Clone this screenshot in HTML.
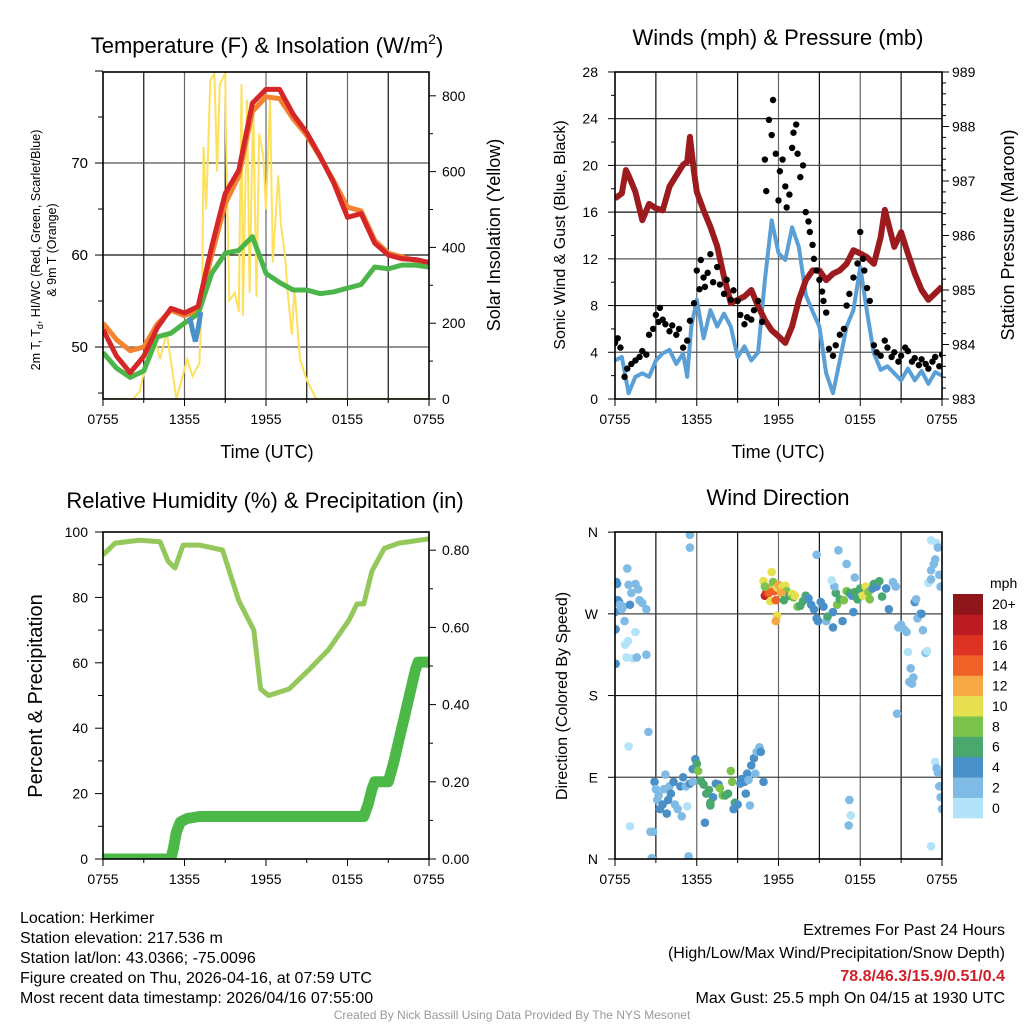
<!DOCTYPE html>
<html><head><meta charset="utf-8"><style>
html,body{margin:0;padding:0;background:#fff;}
svg{display:block;font-family:"Liberation Sans",Arial,sans-serif;}
</style></head><body>
<svg id="c" width="1024" height="1024" viewBox="0 0 1024 1024" xmlns="http://www.w3.org/2000/svg">
<defs>
<clipPath id="cp1"><rect x="103" y="72" width="326" height="327"/></clipPath>
<clipPath id="cp2"><rect x="615" y="72" width="327" height="327"/></clipPath>
<clipPath id="cp3"><rect x="103" y="532" width="326" height="327"/></clipPath>
<clipPath id="cp4"><rect x="615" y="532" width="327" height="327"/></clipPath>
</defs>
<text x="267" y="53" font-size="22" text-anchor="middle">Temperature (F) &amp; Insolation (W/m<tspan dy="-9" font-size="14">2</tspan><tspan dy="9">)</tspan></text>
<text x="778" y="45" font-size="22" text-anchor="middle">Winds (mph) &amp; Pressure (mb)</text>
<text x="265" y="508" font-size="22" text-anchor="middle">Relative Humidity (%) &amp; Precipitation (in)</text>
<text x="778" y="505" font-size="22" text-anchor="middle">Wind Direction</text>

<text x="267" y="458" font-size="18" text-anchor="middle">Time (UTC)</text>
<text x="778" y="458" font-size="18" text-anchor="middle">Time (UTC)</text>
<text transform="translate(40,250) rotate(-90)" font-size="12.5" text-anchor="middle">2m T, T<tspan dy="3" font-size="9">d</tspan><tspan dy="-3">, HI/WC (Red, Green, Scarlet/Blue)</tspan></text>
<text transform="translate(56,250) rotate(-90)" font-size="12.5" text-anchor="middle">&amp; 9m T (Orange)</text>
<text transform="translate(500,235) rotate(-90)" font-size="18" text-anchor="middle">Solar Insolation (Yellow)</text>
<text transform="translate(565,235) rotate(-90)" font-size="16" text-anchor="middle">Sonic Wind &amp; Gust (Blue, Black)</text>
<text transform="translate(1014,235) rotate(-90)" font-size="18" text-anchor="middle">Station Pressure (Maroon)</text>
<text transform="translate(42,696) rotate(-90)" font-size="20" text-anchor="middle">Percent &amp; Precipitation</text>
<text transform="translate(567,696) rotate(-90)" font-size="16" text-anchor="middle">Direction (Colored By Speed)</text>
<text x="990" y="588" font-size="14">mph</text>

<g font-size="16">
<text x="20" y="923">Location: Herkimer</text>
<text x="20" y="943">Station elevation: 217.536 m</text>
<text x="20" y="963">Station lat/lon: 43.0366; -75.0096</text>
<text x="20" y="983">Figure created on Thu, 2026-04-16, at 07:59 UTC</text>
<text x="20" y="1003">Most recent data timestamp: 2026/04/16 07:55:00</text>
</g>
<g font-size="16" text-anchor="end">
<text x="1005" y="935">Extremes For Past 24 Hours</text>
<text x="1005" y="958">(High/Low/Max Wind/Precipitation/Snow Depth)</text>
<text x="1005" y="981" fill="#d0202a" font-weight="bold">78.8/46.3/15.9/0.51/0.4</text>
<text x="1005" y="1003">Max Gust: 25.5 mph On 04/15 at 1930 UTC</text>
</g>
<text x="512" y="1019" font-size="12" fill="#999" text-anchor="middle">Created By Nick Bassill Using Data Provided By The NYS Mesonet</text>
</svg>
<script>
// ---- data ----
const hours = [0,1,2,3,4,5,6,7,8,9,10,11,12,13,14,15,16,17,18,19,20,21,22,23,24];
const xTickLabels = ["0755","1355","1955","0155","0755"];
const tempRed = [51.9,49.0,47.2,49.0,52.1,54.2,53.7,54.4,60.9,66.7,69.2,76.5,78.0,78.0,75.3,73.3,70.7,67.8,64.1,64.5,61.3,60.0,59.6,59.5,59.2];
const temp9m = [52.6,50.8,49.6,50.0,52.5,54.0,53.4,54.0,60.0,65.6,68.6,75.6,77.2,77.0,74.8,73.0,70.6,68.0,65.2,64.8,61.6,60.2,59.8,59.4,59.1];
const dewGreen = [49.4,47.7,46.7,47.4,51.1,51.5,52.6,53.6,58.0,60.2,60.5,62.0,58.0,57.0,56.2,56.2,55.8,56.0,56.4,56.8,58.7,58.5,58.9,58.9,58.7];
const wcHours = [6.4,6.6,6.8,7.0,7.2];
const wcBlue = [53.2,51.8,50.6,52.0,53.8];
const solarHours = [0,2.2,2.7,3.0,3.7,4.2,4.7,5.4,6.2,6.6,7.1,7.3,7.4,7.6,7.9,8.2,8.4,8.6,9.0,9.05,9.3,9.7,10.0,10.2,10.3,10.6,10.8,11.05,11.3,11.5,11.8,12.0,12.3,12.5,12.9,13.1,13.4,13.6,13.9,14.1,14.5,15.0,15.7,24];
const solarVals = [0,0,20,68,175,105,175,0,105,60,95,280,665,500,840,860,600,830,860,700,260,280,230,830,220,790,280,790,270,700,640,500,790,360,590,460,380,280,170,290,105,50,0,0];
const windHours = [0,0.5,1,1.5,2,2.5,3,3.5,4,4.5,5,5.3,5.6,6,6.5,7,7.5,8,8.5,9,9.5,10,10.5,11,11.5,12,12.5,13,13.5,14,14.5,15,15.5,16,16.5,17,17.5,18,18.5,19,19.5,20,20.5,21,21.5,22,22.5,23,23.5,24];
const windVals = [3.3,3.6,0.5,1.9,2.2,1.9,3.3,3.9,4.2,3.0,3.9,1.9,6.2,8.5,5.2,7.6,6.2,7.3,6.2,3.6,4.5,3.3,4.0,10.2,15.3,12.5,11.9,14.7,13.0,8.9,7.5,6.2,2.2,0.5,3.3,6.2,7.6,11.3,7.4,3.9,2.5,2.8,2.2,1.6,2.6,1.6,2.4,1.3,2.3,2.0];
const gustHours = [0,0.2,0.4,0.7,0.9,1.2,1.5,1.8,2.0,2.3,2.5,2.8,3.0,3.2,3.3,3.5,3.7,4.0,4.2,4.5,4.7,5.0,5.3,5.5,5.8,6.0,6.2,6.3,6.5,6.6,6.8,7.0,7.2,7.5,7.7,8.0,8.2,8.5,8.7,9.0,9.2,9.5,9.7,10.0,10.2,10.5,10.8,11.0,11.1,11.3,11.5,11.6,11.8,12.0,12.1,12.3,12.5,12.6,12.8,13.0,13.1,13.3,13.4,13.6,13.8,14.0,14.2,14.3,14.5,14.6,14.8,15.0,15.2,15.3,15.5,15.7,16.0,16.2,16.5,16.8,17.0,17.2,17.5,17.8,18.0,18.2,18.3,18.5,18.7,19.0,19.2,19.5,19.8,20.0,20.3,20.5,20.8,21.0,21.3,21.5,21.8,22.0,22.3,22.5,22.8,23.0,23.3,23.5,23.8,24];
const gustVals = [4.8,5.2,4.4,1.9,2.6,3.0,3.3,3.6,4.1,3.8,5.5,6.0,7.2,6.6,7.8,6.8,6.4,5.8,6.3,5.5,6.0,4.4,5.0,6.7,8.2,11.0,9.4,11.9,10.4,9.6,10.8,12.4,10.0,11.3,9.8,9.0,10.2,8.5,9.3,8.4,7.2,6.4,7.0,6.8,7.6,8.4,6.6,20.5,17.8,23.9,22.6,25.6,21.0,17.0,19.5,20.5,18.2,16.4,17.5,21.5,22.8,23.5,21.0,19.0,20.0,16.0,15.2,14.3,13.2,12.0,11.0,10.2,9.2,8.4,7.4,4.3,3.7,4.6,5.5,6.0,8.0,9.0,10.4,11.6,14.3,12.0,11.0,9.5,8.4,4.6,4.0,3.7,5.0,4.4,3.6,4.0,3.2,3.7,4.4,4.1,3.2,3.5,2.9,3.4,3.0,2.6,3.2,3.6,2.8,3.8];
const presHours = [0,0.5,0.8,1,1.5,2,2.5,3,3.5,4,4.5,5,5.3,5.5,5.8,6,6.5,7,7.5,8,8.5,9,9.5,10,10.5,11,11.5,12,12.5,13,13.5,14,14.5,15,15.5,16,16.5,17,17.5,18,18.5,19,19.5,19.8,20,20.5,21,21.5,22,22.5,23,23.5,24];
const presVals = [986.68,986.77,987.2,987.1,986.8,986.28,986.58,986.5,986.46,986.9,987.1,987.3,987.35,987.81,987.17,986.8,986.46,986.16,985.8,985.24,984.76,984.82,984.88,985.0,984.7,984.45,984.26,984.15,984.03,984.33,984.82,985.18,985.36,985.36,985.18,985.3,985.36,985.48,985.73,985.67,985.6,985.48,985.97,986.47,986.28,985.79,986.06,985.67,985.3,985.0,984.82,984.94,985.06];
const rhHours = [0,0.9,2.7,4.2,4.8,5.3,5.9,7.1,8.8,10,11.1,11.6,12.2,13.7,15.2,16.6,18.1,18.7,19.2,19.8,20.7,21.8,24];
const rhVals = [93,96.6,97.5,97,91,89,96,96,94.5,79,70,52,50,52,58,64,73,78,78,88,95,96.6,97.9];
const precipHours = [0,5.0,5.2,5.4,5.7,6.2,7.1,19.2,19.5,19.8,20.0,21.0,21.4,21.8,22.2,22.6,23.0,23.2,24];
const precipVals = [0,0,0.03,0.07,0.096,0.105,0.11,0.11,0.14,0.18,0.2,0.2,0.25,0.31,0.37,0.43,0.49,0.51,0.51];
const dirHours = [0,0.05,0.1,0.15,0.2,0.3,0.35,0.5,0.6,0.7,0.9,1.0,1.1,1.2,1.5,1.7,1.8,2.0,2.3,0.95,0.85,1.3,1.6,2.3,0.75,1.5,0.05,5.5,5.5,
2.45,1.0,1.1,2.6,2.8,2.7,5.4,2.9,3.0,3.1,3.2,3.3,3.5,3.6,3.7,3.8,3.9,4.0,4.1,4.3,4.4,4.6,4.8,4.9,5.0,5.2,5.3,5.5,5.7,5.9,6.0,6.1,6.3,6.5,6.7,6.9,7.0,7.2,7.4,7.6,7.7,7.9,8.1,8.3,8.5,8.6,8.8,9.0,9.2,9.3,9.5,9.7,9.8,10.0,10.2,10.4,10.6,10.7,10.9,10.3,9.9,9.6,8.7,6.6,7.0,5.7,
10.9,11.0,11.1,11.2,11.3,11.4,11.5,11.6,11.7,11.8,11.9,12.0,12.2,12.3,12.5,12.6,12.8,13.0,13.1,13.2,11.9,11.8,12.2,11.0,12.4,
13.4,13.6,13.8,14.0,14.2,14.4,14.6,14.8,14.9,15.1,15.3,15.5,15.6,16.0,16.2,16.3,16.5,16.7,16.8,17.0,17.2,17.4,17.6,17.8,18.0,18.2,18.4,18.6,18.7,18.9,19.0,19.2,19.4,19.6,19.9,20.1,16.4,17.0,17.6,16.1,15.9,14.8,16.0,17.5,
17.2,17.3,17.15,
20.4,20.6,20.8,21.0,21.2,21.4,21.5,21.6,21.7,22.0,22.1,22.2,22.4,22.6,22.8,22.9,21.8,21.9,20.7,23.0,23.2,23.4,23.5,23.6,23.7,23.8,23.9,23.2,22.5,23.2,23.5,23.6,23.7,23.8,23.9,24.0,23.2];
const dirVals = [272,253,305,303,285,283,280,275,278,262,320,302,280,293,303,297,285,282,275,240,222,221,222,225,236,250,215,357,343,
140,124,36,30,30,1,3,85,77,65,70,55,60,77,93,50,65,80,72,85,60,55,80,47,90,80,58,83,99,110,105,97,86,82,72,76,59,68,83,82,78,70,70,72,97,85,62,60,83,88,85,94,87,103,111,118,123,118,85,94,59,72,55,40,62,85,
306,290,293,299,293,284,316,305,295,285,299,302,297,300,301,295,290,292,288,290,268,262,293,300,285,
278,279,284,290,287,280,275,265,262,283,278,262,267,272,293,280,286,262,285,295,293,290,294,286,298,290,300,294,286,298,303,300,306,289,298,275,340,325,310,300,307,335,255,272,
65,48,37,
305,300,255,258,253,250,228,195,210,283,286,265,270,252,227,229,193,200,160,304,318,325,330,348,343,313,300,308,270,351,107,100,95,80,68,55,14];
const dirSpeeds = [5,4,4,5,5,4,2,3,2,3,2,3,4,3,2,3,3,3,2,1,1,1,2,2,1,1,4,2,2,
2,1,1,2,2,2,2,5,3,3,2,4,4,3,3,5,4,3,4,5,3,3,4,3,5,3,1,4,5,5,6,8,7,7,6,6,7,4,5,4,8,8,7,6,8,8,6,5,5,5,4,5,2,4,5,2,3,5,4,3,3,5,5,5,7,3,
10,18,16,13,15,11,11,9,14,14,10,13,12,10,10,8,7,11,9,10,10,12,13,9,7,
8,7,7,6,5,4,5,5,4,5,4,3,7,5,6,9,7,5,9,8,7,5,7,6,7,10,11,8,9,5,6,4,7,6,5,4,3,2,2,3,1,2,4,4,
2,1,2,
2,2,3,2,2,2,1,2,3,4,3,2,2,2,3,1,3,2,3,1,2,2,2,1,2,2,2,2,4,1,1,2,3,3,2,2,1];
const speedLabels = ["0","2","4","6","8","10","12","14","16","18","20+"];
const speedColors = ["#b3e3f8","#7fbbe5","#4a90c8","#4aa76e","#7cc34b","#e6e050","#f5a843","#ef6127","#dc3325","#bb1b22","#8e1519"];

// ---- scales ----
const NS = "http://www.w3.org/2000/svg";
const svg = document.getElementById('c');
function X1(h){return 103 + h*326/24;}
function X2(h){return 615 + h*327/24;}
const yT = t => 399 - (t-44.35)*9.2;
const yS = s => 399 - s*0.379;
const yW = w => 399 - w*11.68;
const yP = p => 399 - (p-983)*54.5;
const yRH = r => 859 - r*3.27;
const yPr = p => 859 - p*386;
const yD = d => 859 - d*0.908;
function el(tag, parent){const e=document.createElementNS(NS,tag); (parent||svg).appendChild(e); return e;}
function pathD(xs, ys, fx, fy){return xs.map((h,i)=>(i?'L':'M')+fx(h).toFixed(1)+','+fy(ys[i]).toFixed(1)).join('');}

function vgrid(fx, y0, y1, nm){
  for(let k=1;k<8;k++){
    const l = el('line'); const x=fx(k*3);
    l.setAttribute('x1',x);l.setAttribute('x2',x);l.setAttribute('y1',y0);l.setAttribute('y2',y1);
    l.setAttribute('stroke', k%2? '#111':'#666'); l.setAttribute('stroke-width','1.2');
    
    
  }
}
function hline(x0,x1,y,nm,col){
  const l = el('line');
  l.setAttribute('x1',x0);l.setAttribute('x2',x1);l.setAttribute('y1',y);l.setAttribute('y2',y);
  l.setAttribute('stroke',col||'#111');l.setAttribute('stroke-width','1.2');
  
  
}
vgrid(X1,72,399,'temp-grid-line'); vgrid(X2,72,399,'wind-grid-line'); vgrid(X2,532,859,'direction-grid-line');
[50,60,70].forEach(v=>hline(103,429,yT(v),'temp-grid-line', v==60?'#111':'#555'));
[4,8,12,16,20,24].forEach(v=>hline(615,942,yW(v),'wind-grid-line', v%8?'#555':'#111'));
[90,180,270].forEach(v=>hline(615,942,yD(v),'direction-grid-line', v==180?'#111':'#444'));

function tick(x1,y1,x2,y2,nm){
  const l=el('line');
  l.setAttribute('x1',x1);l.setAttribute('x2',x2);l.setAttribute('y1',y1);l.setAttribute('y2',y2);
  l.setAttribute('stroke','#000');l.setAttribute('stroke-width','1');
  
  
}
function label(x,y,txt,anchor,nm,size){
  const t=el('text'); t.setAttribute('x',x); t.setAttribute('y',y); t.setAttribute('text-anchor',anchor);
  t.setAttribute('font-size',size||14); t.textContent=txt;
  
  
}
[[X1,399],[X2,399],[X1,859],[X2,859]].forEach(([fx,yb],pi)=>{
  for(let k=0;k<=8;k++){ tick(fx(k*3),yb,fx(k*3),yb+(k%2?4:7),'x-tick'); }
  xTickLabels.forEach((s,i)=>label(fx(i*6),yb+25,s,'middle','x-tick-label'));
});
for(let v=45;v<=80;v+=5){tick(103,yT(v),v%10?98:95,yT(v),'temp-y-tick');}
[50,60,70].forEach(v=>label(88,yT(v)+5,String(v),'end','temp-y-tick-label',15));
for(let v=0;v<=800;v+=100){tick(429,yS(v),v%200?433:436,yS(v),'solar-y-tick');}
[0,200,400,600,800].forEach(v=>label(442,yS(v)+5,String(v),'start','solar-y-tick-label'));
for(let v=0;v<=28;v+=2){tick(615,yW(v),v%4?611:608,yW(v),'wind-y-tick');}
[0,4,8,12,16,20,24,28].forEach(v=>label(598,yW(v)+5,String(v),'end','wind-y-tick-label'));
for(let v=983;v<=989.001;v+=0.2){tick(942,yP(v),Math.abs(v-Math.round(v))<0.01?949:946,yP(v),'pressure-y-tick');}
[983,984,985,986,987,988,989].forEach(v=>label(952,yP(v)+5,String(v),'start','pressure-y-tick-label'));
for(let v=0;v<=100;v+=10){tick(103,yRH(v),v%20?98:95,yRH(v),'rh-y-tick');}
[0,20,40,60,80,100].forEach(v=>label(88,yRH(v)+5,String(v),'end','rh-y-tick-label'));
for(let v=0;v<=0.8001;v+=0.1){tick(429,yPr(v),Math.round(v*10)%2?433:436,yPr(v),'precip-y-tick');}
[0,0.2,0.4,0.6,0.8].forEach(v=>label(442,yPr(v)+5,v.toFixed(2),'start','precip-y-tick-label'));
["N","E","S","W","N"].forEach((s,i)=>{tick(615,yD(i*90),608,yD(i*90),'direction-y-tick'); label(598,yD(i*90)+5,s,'end','direction-y-tick-label');});

// ---- series ----
const g1=el('g'); g1.setAttribute('clip-path','url(#cp1)');
const gs1=el('path',g1); gs1.setAttribute('d',pathD(solarHours,solarVals,X1,yS)); gs1.setAttribute('fill','none'); gs1.setAttribute('stroke','#fde05c'); gs1.setAttribute('stroke-width','2');


[[temp9m,'#f58231','temp-9m-line'],[dewGreen,'#4bb54a','dewpoint-line'],[tempRed,'#d62728','temp-2m-line']].forEach(([arr,col,nm])=>{
  const p=el('path',g1); p.setAttribute('d',pathD(hours,arr,X1,yT)); p.setAttribute('fill','none'); p.setAttribute('stroke',col); p.setAttribute('stroke-width','5'); p.setAttribute('stroke-linejoin','round');
  
  
});
const wc=el('path',g1); wc.setAttribute('d',pathD(wcHours,wcBlue,X1,yT)); wc.setAttribute('fill','none'); wc.setAttribute('stroke','#4a90c8'); wc.setAttribute('stroke-width','5');



const g2=el('g'); g2.setAttribute('clip-path','url(#cp2)');
const wl=el('path',g2); wl.setAttribute('d',pathD(windHours,windVals,X2,yW)); wl.setAttribute('fill','none'); wl.setAttribute('stroke','#5a9fd6'); wl.setAttribute('stroke-width','4'); wl.setAttribute('stroke-linejoin','round');


const pl=el('path',g2); pl.setAttribute('d',pathD(presHours,presVals,X2,yP)); pl.setAttribute('fill','none'); pl.setAttribute('stroke','#9b1b1e'); pl.setAttribute('stroke-width','6'); pl.setAttribute('stroke-linejoin','round');


gustHours.forEach((h,i)=>{
  const c=el('circle',g2); c.setAttribute('cx',X2(h)); c.setAttribute('cy',yW(gustVals[i])); c.setAttribute('r','3.2'); c.setAttribute('fill','#000');
  
  
});

const g3=el('g'); g3.setAttribute('clip-path','url(#cp3)');
const rl=el('path',g3); rl.setAttribute('d',pathD(rhHours,rhVals,X1,yRH)); rl.setAttribute('fill','none'); rl.setAttribute('stroke','#94c85a'); rl.setAttribute('stroke-width','5'); rl.setAttribute('stroke-linejoin','round');


const prl=el('path',g3); prl.setAttribute('d',pathD(precipHours,precipVals,X1,yPr)); prl.setAttribute('fill','none'); prl.setAttribute('stroke','#4cb848'); prl.setAttribute('stroke-width','11'); prl.setAttribute('stroke-linejoin','round'); prl.setAttribute('stroke-linecap','round');



const g4=el('g'); g4.setAttribute('clip-path','url(#cp4)');
dirHours.forEach((h,i)=>{
  const c=el('circle',g4); c.setAttribute('cx',X2(h)); c.setAttribute('cy',yD(dirVals[i])); c.setAttribute('r','4.3');
  c.setAttribute('fill',speedColors[Math.min(10,Math.floor(dirSpeeds[i]/2))]);
  
  
});
speedColors.forEach((col,i)=>{
  const r=el('rect'); const y=818-(i+1)*224/11;
  r.setAttribute('x',953); r.setAttribute('y',y); r.setAttribute('width',30); r.setAttribute('height',224/11+0.3); r.setAttribute('fill',col);
  
  
  label(992,y+224/22+5,speedLabels[i],'start','colorbar-label');
});
[[103,72,326,327],[615,72,327,327],[103,532,326,327],[615,532,327,327]].forEach(([x,y,w,h])=>{
  const r=el('rect'); r.setAttribute('x',x);r.setAttribute('y',y);r.setAttribute('width',w);r.setAttribute('height',h);
  r.setAttribute('fill','none');r.setAttribute('stroke','#000');r.setAttribute('stroke-width','1.6');
  
  
});
</script>
</body></html>
